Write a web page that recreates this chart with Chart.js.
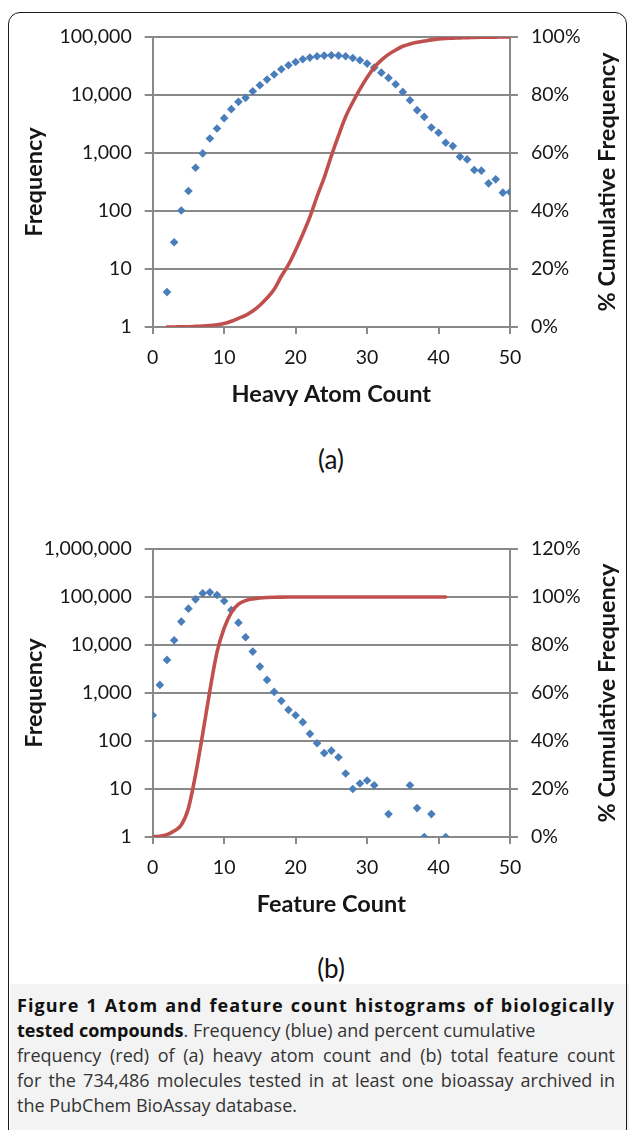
<!DOCTYPE html>
<html>
<head>
<meta charset="utf-8">
<script src="https://cdn.jsdelivr.net/npm/chart.js@4.4.1/dist/chart.umd.min.js"></script>
<style>
  html, body { margin: 0; padding: 0; background: #fff; overflow: hidden; }
  body { width: 629px; height: 1130px; position: relative; font-family: Lato, sans-serif; }
  #frame { position: absolute; left: 8px; top: 12px; width: 617px; height: 1200px;
    border: 1.5px solid #1a1a1a; border-radius: 12px; }
  .chartbox { position: absolute; left: 0; width: 629px; height: 420px; }
  #boxA { top: 0; }
  #boxB { top: 510px; }
  .panel { position: absolute; left: 231px; width: 200px; text-align: center;
    font-size: 26px; color: #111; line-height: 30px; }
  #caption { position: absolute; left: 10px; top: 984px; width: 619px; height: 146px; background: #f3f3f3; }
  .cap { position: absolute; left: 17px; white-space: nowrap; font-family: "Open Sans", sans-serif;
    font-size: 18px; line-height: 25px; color: #333; }
  .cap.full { width: 598px; text-align: justify; text-align-last: justify; }
  .cap.wide { letter-spacing: 1.05px; }
  .cap b { color: #111; }
</style>
</head>
<body>
<div id="caption"></div>
<div id="frame"></div>
<div class="chartbox" id="boxA"><canvas id="chartA"></canvas></div>
<div class="chartbox" id="boxB"><canvas id="chartB"></canvas></div>
<div class="panel" style="top:444px">(a)</div>
<div class="panel" style="top:953px">(b)</div>
<div class="cap full wide" style="top:993px"><b>Figure 1 Atom and feature count histograms of biologically</b></div>
<div class="cap" style="top:1018px"><b>tested compounds</b>. Frequency (blue) and percent cumulative</div>
<div class="cap full" style="top:1043px">frequency (red) of (a) heavy atom count and (b) total feature count</div>
<div class="cap full" style="top:1068px">for the 734,486 molecules tested in at least one bioassay archived in</div>
<div class="cap" style="top:1093px">the PubChem BioAssay database.</div>

<script>
// (a) heavy atom count
const heavyCounts = [2, 3, 4, 5, 6, 7, 8, 9, 10, 11, 12, 13, 14, 15, 16, 17, 18, 19, 20, 21, 22, 23, 24, 25, 26,
  27, 28, 29, 30, 31, 32, 33, 34, 35, 36, 37, 38, 39, 40, 41, 42, 43, 44, 45, 46, 47, 48, 49, 50];
const heavyFreq = [4, 29, 102, 221, 558, 985, 1783, 2650, 3990, 5700, 7620, 8930, 11600, 14750, 18450,
  22500, 27800, 32600, 37150, 41300, 44100, 46500, 47800, 48400, 47800, 46500, 43500, 39700, 34800, 29700,
  24300, 19700, 15300, 11300, 8140, 5480, 4200, 2760, 2230, 1500, 1316, 863, 776, 509, 496, 300, 351, 207, 213];
const heavyCumPct = [0, 0, 0.05, 0.1, 0.2, 0.3, 0.5, 0.8, 1.2, 2, 3, 4, 5.5, 7.5, 10, 13, 17.5, 21.5, 26.5, 32,
  38, 45, 51.5, 59, 66, 72.5, 77.5, 82, 86, 89.5, 92, 94, 95.5, 96.8, 97.6, 98.2, 98.6, 99, 99.3, 99.5,
  99.6, 99.7, 99.8, 99.85, 99.9, 99.95, 99.97, 99.99, 100];

// (b) feature count
const featureCounts = [0, 1, 2, 3, 4, 5, 6, 7, 8, 9, 10, 11, 12, 13, 14, 15, 16, 17, 18, 19, 20, 21, 22, 23,
  24, 25, 26, 27, 28, 29, 30, 31, 33, 36, 37, 38, 39, 41];
const featureFreq = [345, 1476, 4890, 12540, 30700, 57200, 89400, 119200, 125000, 110000, 82600, 53700,
  29200, 14500, 7290, 3550, 1876, 1056, 686, 446, 345, 247, 141, 90, 56, 63, 46, 21, 10, 13, 15, 12,
  3, 12, 4, 1, 3, 1];
const featureCumCounts = [0, 1, 2, 3, 4, 5, 6, 7, 8, 9, 10, 11, 12, 13, 14, 15, 16, 17, 18, 19, 20, 21, 22,
  23, 24, 25, 26, 27, 28, 29, 30, 31, 32, 33, 34, 35, 36, 37, 38, 39, 40, 41];
const featureCumPct = [0.1, 0.3, 1, 2.5, 5, 12, 26, 43, 61, 77, 87, 93.5, 97, 98.5, 99.2, 99.6, 99.8, 99.9,
  99.95, 99.97, 99.98, 99.99, 100, 100, 100, 100, 100, 100, 100, 100, 100, 100, 100, 100, 100, 100, 100,
  100, 100, 100, 100, 100];

const freqTicksA = [1, 10, 100, 1000, 10000, 100000];
const freqTicksB = [1, 10, 100, 1000, 10000, 100000, 1000000];

const BLUE = "#4a7ebb";
const RED = "#c0504d";
const GRID = "#898989";
const TEXT = "#161616";
const tickFont = { family: "Lato", size: 19.5 };
const titleFont = { family: "Lato", size: 23.5, weight: "bold" };

// draws the right axis title reading bottom-to-top, like the original
const rightTitle = {
  id: "rightTitle",
  afterDraw(chart, args, opts) {
    const { ctx, chartArea } = chart;
    ctx.save();
    ctx.translate(opts.x, (chartArea.top + chartArea.bottom) / 2);
    ctx.rotate(-Math.PI / 2);
    ctx.font = "bold 23.5px Lato";
    ctx.fillStyle = TEXT;
    ctx.textAlign = "center";
    ctx.textBaseline = "middle";
    ctx.fillText(opts.text, 0, 0);
    ctx.restore();
  },
};

function makeChart(id, xs, freq, cumXs, cum, freqTicks, pctMax, xTitle, padTop) {
  const ctx = document.getElementById(id).getContext("2d");
  return new Chart(ctx, {
    type: "scatter",
    data: {
      datasets: [
        {
          label: "% Cumulative Frequency",
          data: cumXs.map((x, i) => ({ x: x, y: cum[i] })),
          yAxisID: "y2",
          showLine: true,
          borderColor: RED,
          borderWidth: 3.6,
          pointRadius: 0,
          cubicInterpolationMode: "monotone",
          borderCapStyle: "round",
          order: 0,
        },
        {
          label: "Frequency",
          data: xs.map((x, i) => ({ x: x, y: freq[i] })),
          yAxisID: "y",
          backgroundColor: BLUE,
          borderWidth: 0,
          pointStyle: "rectRot",
          pointRadius: 4.3,
          order: 1,
        },
      ],
    },
    options: {
      responsive: true,
      maintainAspectRatio: false,
      animation: false,
      layout: { padding: { left: 16, right: 0, top: padTop, bottom: 0 } },
      plugins: {
        legend: { display: false },
        tooltip: { enabled: false },
        rightTitle: { text: "% Cumulative Frequency", x: 607 },
      },
      scales: {
        x: {
          type: "linear",
          min: 0,
          max: 50,
          ticks: { stepSize: 10, font: tickFont, color: TEXT, padding: 12, maxRotation: 0 },
          grid: { drawOnChartArea: false, drawTicks: true, tickLength: 7, color: GRID, lineWidth: 2 },
          border: { color: GRID, width: 2 },
          title: { display: true, text: xTitle, font: titleFont, color: TEXT, padding: { bottom: 11 } },
          afterFit: (scale) => { scale.height = 93; },
        },
        y: {
          type: "logarithmic",
          position: "left",
          min: 1,
          max: freqTicks[freqTicks.length - 1],
          afterBuildTicks: (scale) => { scale.ticks = freqTicks.map((v) => ({ value: v })); },
          ticks: {
            font: tickFont,
            color: TEXT,
            padding: 13,
            callback: (v) => Number(v).toLocaleString("en-US"),
          },
          grid: { color: GRID, lineWidth: 2, tickLength: 8 },
          border: { color: GRID, width: 2 },
          title: { display: true, text: "Frequency", font: titleFont, color: TEXT, padding: { top: 4 } },
          afterFit: (scale) => { scale.width = 136.7; },
        },
        y2: {
          type: "linear",
          position: "right",
          min: 0,
          max: pctMax,
          ticks: { stepSize: 20, font: tickFont, color: TEXT, padding: 13, callback: (v) => v + "%" },
          grid: { drawOnChartArea: false, color: GRID, lineWidth: 2, tickLength: 8 },
          border: { color: GRID, width: 2 },
          afterFit: (scale) => { scale.width = 119; },
        },
      },
    },
    plugins: [rightTitle],
  });
}

document.addEventListener("DOMContentLoaded", function () {
  makeChart("chartA", heavyCounts, heavyFreq, heavyCounts, heavyCumPct, freqTicksA, 100, "Heavy Atom Count", 37);
  makeChart("chartB", featureCounts, featureFreq, featureCumCounts, featureCumPct, freqTicksB, 120, "Feature Count", 39);
});
</script>
</body>
</html>
